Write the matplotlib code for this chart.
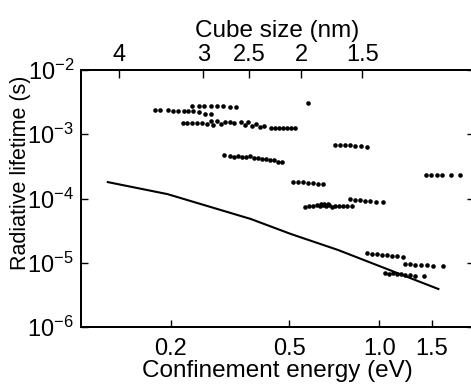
import matplotlib
matplotlib.use("Agg")
import matplotlib.pyplot as plt
from matplotlib.ticker import FixedLocator, NullLocator, LogFormatterMathtext, FixedFormatter

plt.rcParams['font.family'] = ['Liberation Sans', 'DejaVu Sans']
plt.rcParams['mathtext.fontset'] = 'custom'
plt.rcParams['mathtext.rm'] = 'Liberation Sans'
plt.rcParams['mathtext.it'] = 'Liberation Sans:italic'
plt.rcParams['mathtext.bf'] = 'Liberation Sans:bold'

# ---- data (energy in eV, lifetime in s) ----
row_a_E = [0.236, 0.248, 0.259, 0.272, 0.285, 0.299, 0.315, 0.330]
row_a_t = [2.8e-3, 2.8e-3, 2.8e-3, 2.75e-3, 2.75e-3, 2.75e-3, 2.7e-3, 2.7e-3]

row_b_E = [0.1775, 0.1845, 0.196, 0.204, 0.212, 0.221, 0.229, 0.238, 0.248, 0.2615, 0.272]
row_b_t = [2.35e-3, 2.35e-3, 2.35e-3, 2.3e-3, 2.3e-3, 2.3e-3, 2.3e-3, 2.3e-3, 2.25e-3, 2.05e-3, 2.05e-3]

row_c_E = [0.219, 0.2275, 0.236, 0.2455, 0.2555, 0.2655, 0.272, 0.278, 0.285, 0.294,
           0.303, 0.315, 0.327, 0.343, 0.354, 0.362, 0.3735, 0.3854, 0.398, 0.4098,
           0.4329, 0.4467, 0.4605, 0.475, 0.4898, 0.5054, 0.521]
row_c_t = [1.5e-3, 1.5e-3, 1.5e-3, 1.5e-3, 1.5e-3, 1.45e-3, 1.61e-3, 1.4e-3, 1.61e-3, 1.45e-3,
           1.56e-3, 1.56e-3, 1.5e-3, 1.56e-3, 1.4e-3, 1.56e-3, 1.35e-3, 1.45e-3, 1.3e-3, 1.35e-3,
           1.25e-3, 1.25e-3, 1.25e-3, 1.25e-3, 1.25e-3, 1.25e-3, 1.25e-3]

row_d_E = [0.301, 0.315, 0.325, 0.335, 0.346, 0.357, 0.368, 0.380, 0.392, 0.4035,
           0.4164, 0.4295, 0.443, 0.457, 0.4715]
row_d_t = [4.75e-4, 4.59e-4, 4.43e-4, 4.59e-4, 4.43e-4, 4.43e-4, 4.59e-4, 4.28e-4, 4.28e-4, 4.13e-4,
           4.13e-4, 3.99e-4, 3.99e-4, 3.72e-4, 3.72e-4]

single_E = [0.577]
single_t = [3.06e-3]

row_f_E = [0.711, 0.739, 0.768, 0.798, 0.830, 0.869, 0.910]
row_f_t = [6.8e-4, 6.8e-4, 6.7e-4, 6.7e-4, 6.6e-4, 6.5e-4, 6.35e-4]

row_g_E = [0.513, 0.533, 0.555, 0.576, 0.599, 0.623, 0.647]
row_g_t = [1.81e-4, 1.8e-4, 1.78e-4, 1.76e-4, 1.74e-4, 1.7e-4, 1.68e-4]

row_h_E = [0.5635, 0.581, 0.599, 0.619, 0.632, 0.647, 0.663, 0.679, 0.695, 0.711,
           0.733, 0.756, 0.779, 0.81, 0.64, 0.655, 0.672]
row_h_t = [7.4e-5, 7.65e-5, 7.65e-5, 7.9e-5, 7.65e-5, 7.9e-5, 7.65e-5, 7.9e-5, 7.4e-5, 7.65e-5,
           7.65e-5, 7.65e-5, 7.65e-5, 7.65e-5, 8.3e-5, 8.3e-5, 8.3e-5]

row_i_E = [0.798, 0.830, 0.862, 0.896, 0.932, 0.976, 1.03]
row_i_t = [9.8e-5, 9.5e-5, 9.5e-5, 9.2e-5, 9.2e-5, 8.9e-5, 8.9e-5]

row_j_E = [1.439, 1.496, 1.567, 1.63, 1.747, 1.865]
row_j_t = [2.32e-4, 2.32e-4, 2.32e-4, 2.32e-4, 2.32e-4, 2.32e-4]

row_k_E = [0.910, 0.946, 0.984, 1.023, 1.063, 1.106, 1.15, 1.204]
row_k_t = [1.42e-5, 1.37e-5, 1.37e-5, 1.32e-5, 1.32e-5, 1.28e-5, 1.28e-5, 1.23e-5]

row_l_E = [1.22, 1.27, 1.32, 1.384, 1.45, 1.52, 1.64]
row_l_t = [9.57e-6, 9.57e-6, 9.24e-6, 9.24e-6, 9.24e-6, 8.9e-6, 8.9e-6]

row_m_E = [1.047, 1.08, 1.114, 1.15, 1.185, 1.22, 1.27, 1.32, 1.41]
row_m_t = [6.92e-6, 6.69e-6, 6.92e-6, 6.69e-6, 6.69e-6, 6.46e-6, 6.46e-6, 6.25e-6, 6.25e-6]

theory_E = [0.123, 0.195, 0.371, 0.506, 0.728, 1.04, 1.58]
theory_t = [1.8e-4, 1.17e-4, 4.8e-5, 2.8e-5, 1.58e-5, 8.3e-6, 3.9e-6]

bottom_ticks = [0.2, 0.5, 1.0, 1.5]
bottom_labels = ['0.2', '0.5', '1.0', '1.5']
cube_sizes = ['4', '3', '2.5', '2', '1.5']
cube_energies = [0.134, 0.257, 0.366, 0.548, 0.879]
y_ticks = [1e-6, 1e-5, 1e-4, 1e-3, 1e-2]

# ---- figure ----
W, H = 471, 386
fig = plt.figure(figsize=(W / 100, H / 100), dpi=100)
ax = fig.add_axes([81 / W, 1 - 327 / H, 393 / W, 257 / H])

all_E = [row_a_E, row_b_E, row_c_E, row_d_E, single_E, row_f_E, row_g_E,
         row_h_E, row_i_E, row_j_E, row_k_E, row_l_E, row_m_E]
all_t = [row_a_t, row_b_t, row_c_t, row_d_t, single_t, row_f_t, row_g_t,
         row_h_t, row_i_t, row_j_t, row_k_t, row_l_t, row_m_t]
for e, t in zip(all_E, all_t):
    ax.plot(e, t, 'o', color='black', markersize=3.3, markeredgewidth=0)

ax.plot(theory_E, theory_t, '-', color='black', linewidth=1.5)

ax.set_xscale('log')
ax.set_yscale('log')
ax.set_xlim(0.1, 2.08)
ax.set_ylim(1e-6, 1e-2)

ax.xaxis.set_major_locator(FixedLocator(bottom_ticks))
ax.xaxis.set_major_formatter(FixedFormatter(bottom_labels))
ax.xaxis.set_minor_locator(NullLocator())
ax.yaxis.set_major_locator(FixedLocator(y_ticks))
ax.yaxis.set_major_formatter(LogFormatterMathtext())
ax.yaxis.set_minor_locator(NullLocator())

ax.tick_params(axis='both', which='major', direction='in', length=5, width=1.0,
               labelsize=17, top=False, right=True, pad=5)
ax.tick_params(axis='x', pad=8)

for s in ax.spines.values():
    s.set_linewidth(1.4)

ax.set_xlabel('Confinement energy (eV)', fontsize=17.5, labelpad=0)
ax.set_ylabel('Radiative lifetime (s)', fontsize=15.5)
ax.yaxis.set_label_coords(-0.128, 0.6)

# top axis: cube size
ax2 = ax.twiny()
ax2.set_xscale('log')
ax2.set_xlim(ax.get_xlim())
ax2.xaxis.set_major_locator(FixedLocator(cube_energies))
ax2.xaxis.set_major_formatter(FixedFormatter(cube_sizes))
ax2.xaxis.set_minor_locator(NullLocator())
ax2.tick_params(axis='x', direction='in', length=6, width=1.0, labelsize=17, pad=3)
ax2.set_xlabel('Cube size (nm)', fontsize=17.5, labelpad=5)
for s in ax2.spines.values():
    s.set_linewidth(1.4)

fig.savefig('out.png', dpi=100)
